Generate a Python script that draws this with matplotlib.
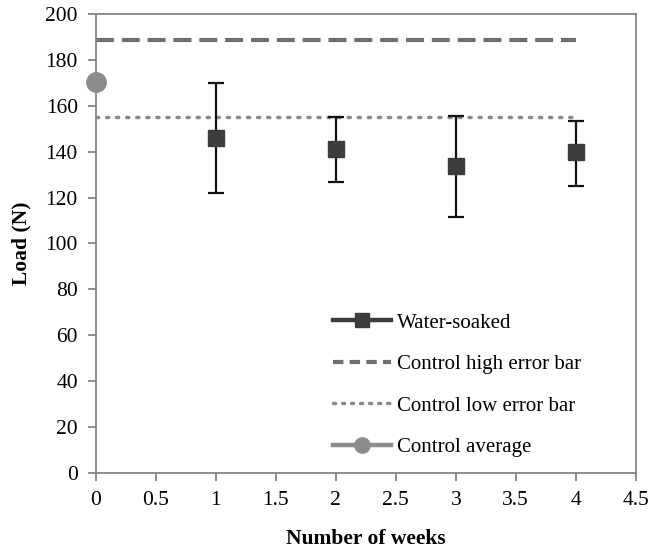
import matplotlib.pyplot as plt
from matplotlib.lines import Line2D

plt.rcParams['font.family'] = ['Liberation Serif', 'DejaVu Serif']

# water-soaked samples: mean load and error bar ends per week
weeks = [1, 2, 3, 4]
load_mean = [146.0, 141.0, 133.8, 139.7]
load_high = [169.8, 155.0, 155.4, 153.5]
load_low = [122.0, 126.7, 111.7, 125.2]

# control reference values
control_weeks = [0, 4]
control_high = 188.5
control_low = 155.0
control_avg = 170.5

fig = plt.figure(figsize=(6.48, 5.53), dpi=100)
ax = fig.add_axes([0.148, 0.1447, 0.833, 0.83])

err_low = [m - l for m, l in zip(load_mean, load_low)]
err_high = [h - m for m, h in zip(load_mean, load_high)]

ax.plot(control_weeks, [control_high] * 2, color='#6e6e6e', lw=3,
        dashes=(4.3, 1.9), zorder=2)
ax.plot(control_weeks, [control_low] * 2, color='#8a8a8a', lw=2.5,
        linestyle=(0, (0.6, 2.3)), dash_capstyle='round', zorder=2)
ax.errorbar(weeks, load_mean, yerr=[err_low, err_high], fmt='s',
            color='#3c3c3c', ms=11, ecolor='#111111', elinewidth=1.6,
            capsize=6, capthick=1.6, zorder=3)
ax.plot([0], [control_avg], 'o', color='#8c8c8c', ms=14, zorder=4,
        clip_on=False)

ax.set_xlim(0, 4.5)
ax.set_ylim(0, 200)
ax.set_xticks([0, 0.5, 1, 1.5, 2, 2.5, 3, 3.5, 4, 4.5])
ax.set_xticklabels(['0', '0.5', '1', '1.5', '2', '2.5', '3', '3.5', '4', '4.5'])
ax.set_yticks(range(0, 201, 20))
ax.tick_params(labelsize=15.5, length=6, width=1.2, color='#7a7a7a', pad=7)
for s in ax.spines.values():
    s.set_color('#858585')
    s.set_linewidth(1.3)

ax.set_xlabel('Number of weeks', fontsize=15.5, fontweight='bold', labelpad=14)
ax.set_ylabel('Load (N)', fontsize=15.5, fontweight='bold', labelpad=10)

handles = [
    Line2D([], [], color='#3c3c3c', lw=3.2, marker='s', ms=10),
    Line2D([], [], color='#6e6e6e', lw=3, dashes=(2.5, 1.5)),
    Line2D([], [], color='#8a8a8a', lw=2.5, linestyle=(0, (0.6, 2.0)),
           dash_capstyle='round'),
    Line2D([], [], color='#8c8c8c', lw=3.2, marker='o', ms=11),
]
labels = ['Water-soaked', 'Control high error bar', 'Control low error bar',
          'Control average']
ax.legend(handles, labels, loc='lower left', bbox_to_anchor=(0.405, -0.006),
          frameon=False, fontsize=15, handlelength=2.75, handletextpad=0.3,
          labelspacing=1.05)

fig.savefig('out.png', dpi=100)
